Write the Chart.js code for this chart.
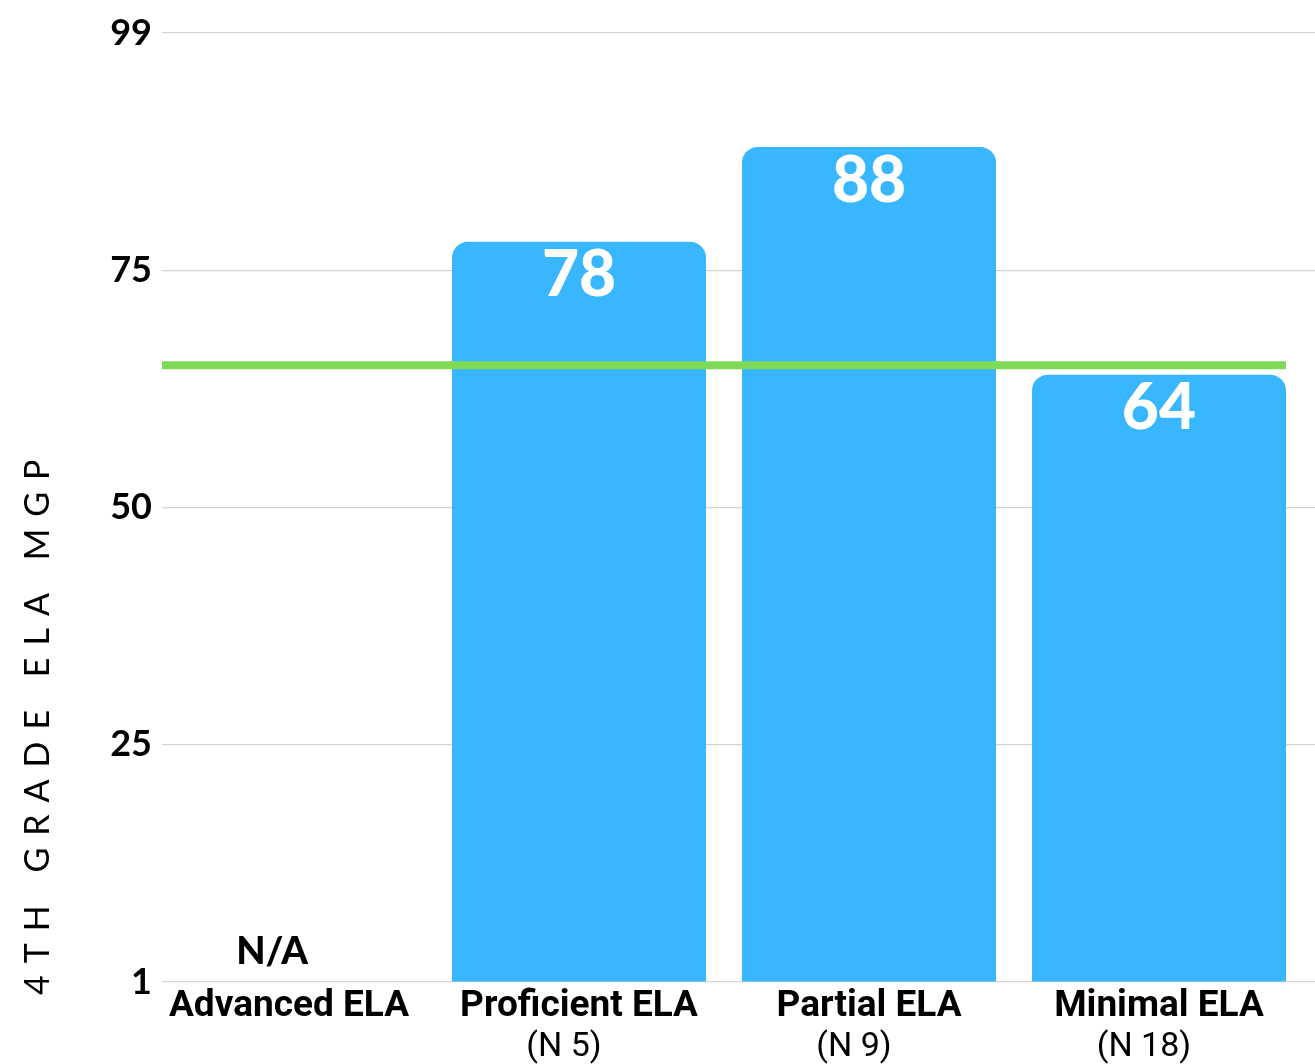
<!DOCTYPE html>
<html>
<head>
<meta charset="utf-8">
<script src="https://cdn.jsdelivr.net/npm/chart.js@4.4.1/dist/chart.umd.min.js"></script>
<style>
  html, body { margin: 0; padding: 0; background: #fff; }
  canvas { display: block; }
</style>
</head>
<body>
<canvas id="mgp" width="1315" height="1064"></canvas>
<script>
const categories = ['Advanced ELA', 'Proficient ELA', 'Partial ELA', 'Minimal ELA'];
const groupSizes = ['', '(N 5)', '(N 9)', '(N 18)'];
const mgpValues = [null, 78, 88, 64];
const targetMgp = 65;
const yTickValues = [0, 25, 50, 75, 100];
const yTickLabels = ['1', '25', '50', '75', '99'];
const missingLabel = 'N/A';
const axisTitle = '4TH GRADE ELA MGP';

const BLUE = '#38B6FF';
const GREEN = '#7ED957';

// x runs on a linear scale so the categories sit slightly left of centre
const X_MIN = -0.438;
const X_MAX = 3.538;

function categoryLabel(list) {
    return value => {
        const i = Math.round(value);
        return Math.abs(value - i) < 1e-6 && list[i] !== undefined ? list[i] : '';
    };
}

// target line, value labels on bar tops and N/A for the empty category
const overlays = {
    id: 'overlays',
    afterDatasetsDraw(chart) {
        const { ctx, chartArea } = chart;
        const xs = chart.scales.x;
        const ys = chart.scales.y;
        const bars = chart.getDatasetMeta(0).data;

        const lastBar = bars[bars.length - 1];
        const lineY = ys.getPixelForValue(targetMgp);
        ctx.save();
        ctx.strokeStyle = GREEN;
        ctx.lineWidth = 8;
        ctx.beginPath();
        ctx.moveTo(chartArea.left, lineY);
        ctx.lineTo(lastBar.x + lastBar.width / 2, lineY);
        ctx.stroke();

        ctx.textAlign = 'center';
        ctx.textBaseline = 'middle';
        mgpValues.forEach((v, i) => {
            if (v === null) {
                ctx.fillStyle = '#000';
                ctx.font = '900 38px Lato';
                ctx.fillText(missingLabel, xs.getPixelForValue(i) - 17, ys.getPixelForValue(0) - 30);
                return;
            }
            ctx.fillStyle = '#fff';
            ctx.font = '900 64px Lato';
            ctx.fillText(String(v), bars[i].x, bars[i].y + 34);
        });
        ctx.restore();
    },
    afterDraw(chart) {
        // letter-spaced vertical title, drawn from the bottom of the plot upward
        const { ctx, chartArea } = chart;
        ctx.save();
        ctx.translate(38, chartArea.bottom + 13);
        ctx.rotate(-Math.PI / 2);
        ctx.font = '400 34px Lato';
        ctx.letterSpacing = '12px';
        ctx.fillStyle = '#000';
        ctx.textAlign = 'left';
        ctx.textBaseline = 'middle';
        ctx.fillText(axisTitle, 0, 0);
        ctx.restore();
    }
};

new Chart(document.getElementById('mgp'), {
    type: 'bar',
    data: {
        datasets: [{
            data: mgpValues.map((v, i) => ({ x: i, y: v })),
            backgroundColor: BLUE,
            borderRadius: { topLeft: 16, topRight: 16 },
            borderSkipped: 'start',
            barPercentage: 0.876,
            categoryPercentage: 1
        }]
    },
    options: {
        responsive: false,
        animation: false,
        layout: { padding: { top: 33, right: 0, bottom: 0, left: 0 } },
        plugins: { legend: { display: false }, tooltip: { enabled: false } },
        scales: {
            x: {
                type: 'linear',
                position: 'bottom',
                offset: false,
                weight: 0,
                min: X_MIN,
                max: X_MAX,
                grid: { display: false, offset: false },
                border: { display: false },
                ticks: {
                    stepSize: 1,
                    includeBounds: false,
                    autoSkip: false,
                    maxRotation: 0,
                    padding: -5,
                    color: '#000',
                    font: { family: 'Roboto', weight: '700', size: 37 },
                    callback: categoryLabel(categories)
                },
                afterFit(scale) { scale.height = 37; }
            },
            x2: {
                type: 'linear',
                position: 'bottom',
                offset: false,
                weight: 1,
                min: X_MIN,
                max: X_MAX,
                grid: { display: false, offset: false },
                border: { display: false },
                ticks: {
                    stepSize: 1,
                    includeBounds: false,
                    autoSkip: false,
                    maxRotation: 0,
                    padding: 0,
                    labelOffset: -15,
                    color: '#000',
                    font: { family: 'Roboto', weight: '400', size: 34 },
                    callback: categoryLabel(groupSizes)
                },
                afterFit(scale) { scale.height = 45; }
            },
            y: {
                min: 0,
                max: 100,
                grid: { color: '#d4d4d4', lineWidth: 1.2, drawTicks: false },
                border: { display: false },
                ticks: {
                    stepSize: 25,
                    padding: 10,
                    color: '#000',
                    font: { family: 'Lato', weight: '700', size: 36 },
                    callback: value => {
                        const k = yTickValues.indexOf(value);
                        return k >= 0 ? yTickLabels[k] : '';
                    }
                },
                afterFit(scale) { scale.width = 162; }
            }
        }
    },
    plugins: [overlays]
});
</script>
</body>
</html>
